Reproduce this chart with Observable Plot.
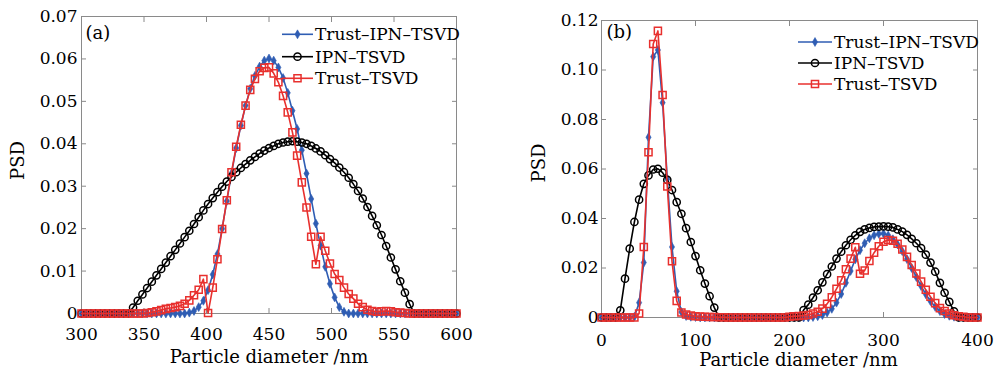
<!DOCTYPE html>
<html><head><meta charset="utf-8">
<script src="https://cdn.jsdelivr.net/npm/d3@7"></script>
<script src="https://cdn.jsdelivr.net/npm/@observablehq/plot@0.6"></script>
<style>
html,body{margin:0;padding:0;background:#fff;}
#wrap{position:relative;width:1002px;height:372px;font-family:"DejaVu Serif",serif;}
.panel{position:absolute;top:0;width:501px;height:372px;}
.legend{position:absolute;left:0;top:0;pointer-events:none;overflow:visible;}
</style></head><body>
<div id="wrap"><div id="pa" class="panel" style="left:0"></div><div id="pb" class="panel" style="left:501px"></div></div>
<script>
// ---------- data ----------
const seriesNames = ["Trust\u2013IPN\u2013TSVD", "IPN\u2013TSVD", "Trust\u2013TSVD"];
const panelTags = ["(a)", "(b)"];
const xLabel = "Particle diameter /nm";
const yLabel = "PSD";

// panel (a): particle diameter grid (nm)
const xA = [300,303.75,307.5,311.25,315,318.75,322.5,326.25,330,333.75,
  337.5,341.25,345,348.75,352.5,356.25,360,363.75,367.5,371.25,
  375,378.75,382.5,386.25,390,393.75,397.5,401.25,405,408.75,
  412.5,416.25,420,423.75,427.5,431.25,435,438.75,442.5,446.25,
  450,453.75,457.5,461.25,465,468.75,472.5,476.25,480,483.75,
  487.5,491.25,495,498.75,502.5,506.25,510,513.75,517.5,521.25,
  525,528.75,532.5,536.25,540,543.75,547.5,551.25,555,558.75,
  562.5,566.25,570,573.75,577.5,581.25,585,588.75,592.5,596.25,600];
const trustIpnA = [0,0,0,0,0,0,0,0,0,0,
  0,0,0,0,0,0,0,0,0,0,
  0,0,0,0.0002,0.0006,0.0015,0.0030,0.0055,0.0092,0.0140,
  0.0200,0.0265,0.0330,0.0390,0.0443,0.0490,0.0530,0.0560,0.0582,0.0596,
  0.0601,0.0596,0.0580,0.0555,0.0520,0.0478,0.0435,0.0385,0.0330,0.0270,
  0.0212,0.0160,0.0110,0.0070,0.0038,0.0015,0.0004,0,0,0,
  0,0,0,0,0,0,0,0,0,0,
  0,0,0,0,0,0,0,0,0,0,0];
const ipnA = [0,0,0,0,0,0,0,0,0,0,
  0,0.0014,0.0030,0.0045,0.0060,0.0075,0.0090,0.0105,0.0120,0.0135,
  0.0150,0.0165,0.0180,0.0195,0.0211,0.0227,0.0243,0.0258,0.0272,0.0286,
  0.0299,0.0311,0.0322,0.0333,0.0343,0.0352,0.0361,0.0369,0.0377,0.0384,
  0.0390,0.0395,0.0400,0.0403,0.0405,0.0406,0.0405,0.0403,0.0400,0.0395,
  0.0389,0.0382,0.0373,0.0364,0.0355,0.0344,0.0333,0.0320,0.0305,0.0289,
  0.0271,0.0251,0.0230,0.0208,0.0185,0.0159,0.0132,0.0104,0.0076,0.0049,
  0.0022,0,0,0,0,0,0,0,0,0,0];
const trustA = [0,0,0,0,0,0,0,0,0,0,
  0,0,0,0,0.0001,0.0003,0.0005,0.0008,0.0011,0.0013,
  0.0015,0.0018,0.0023,0.0031,0.0043,0.0056,0.0081,0.0001,0.0061,0.0128,
  0.0199,0.0267,0.0333,0.0393,0.0445,0.0490,0.0527,0.0553,0.0571,0.0579,
  0.0580,0.0566,0.0545,0.0513,0.0474,0.0427,0.0372,0.0309,0.0250,0.0181,
  0.0116,0.0181,0.0148,0.0118,0.0093,0.0079,0.0061,0.0046,0.0035,0.0023,
  0.0015,0.0009,0.0006,0.0004,0.0005,0.0006,0.0005,0.0003,0.0002,0.0001,
  0,0,0,0,0,0,0,0,0,0,0];
const xTicksA = [300,350,400,450,500,550,600];
const yTicksA = [0,0.01,0.02,0.03,0.04,0.05,0.06,0.07];
const yTickLabelsA = ["0","0.01","0.02","0.03","0.04","0.05","0.06","0.07"];

// panel (b)
const xB = [0,5,10,15,20,25,30,35,40,45,
  50,55,60,65,70,75,80,85,90,95,
  100,105,110,115,120,125,130,135,140,145,
  150,155,160,165,170,175,180,185,190,195,
  200,205,210,215,220,225,230,235,240,245,
  250,255,260,265,270,275,280,285,290,295,
  300,305,310,315,320,325,330,335,340,345,
  350,355,360,365,370,375,380,385,390,395,400];
const trustIpnB = [0,0,0,0,0,0,0,0.0003,0.0060,0.0222,
  0.0728,0.1054,0.1081,0.0868,0.0560,0.0285,0.0106,0.0022,0.0006,0.0003,
  0.0002,0,0,0,0,0,0,0,0,0,
  0,0,0,0,0,0,0,0,0,0,
  0,0,0,0,0,0.0002,0.0005,0.0010,0.0020,0.0035,
  0.0060,0.0095,0.0140,0.0188,0.0235,0.0272,0.0300,0.0320,0.0332,0.0338,
  0.0339,0.0332,0.0316,0.0295,0.0268,0.0236,0.0200,0.0163,0.0127,0.0094,
  0.0066,0.0043,0.0026,0.0014,0.0007,0.0003,0,0,0,0,0];
const ipnB = [0,0,0,0,0.0029,0.0157,0.0278,0.0386,0.0476,0.0540,
  0.0574,0.0598,0.0601,0.0585,0.0556,0.0515,0.0466,0.0419,0.0361,0.0305,
  0.0248,0.0191,0.0137,0.0086,0.0040,0,0,0,0,0,
  0,0,0,0,0,0,0,0,0,0,
  0,0,0,0.0030,0.0052,0.0080,0.0110,0.0142,0.0175,0.0206,
  0.0238,0.0266,0.0292,0.0314,0.0332,0.0346,0.0356,0.0362,0.0366,0.0367,
  0.0368,0.0367,0.0364,0.0356,0.0347,0.0334,0.0318,0.0300,0.0280,0.0254,
  0.0222,0.0185,0.0140,0.0100,0.0063,0.0025,0,0,0,0,0];
const trustB = [0,0,0,0,0,0,0,0,0.0016,0.0285,
  0.0668,0.1105,0.1158,0.0899,0.0529,0.0227,0.0067,0.0020,0.0012,0.0008,
  0.0005,0.0004,0.0003,0.0002,0.0002,0.0001,0.0001,0,0,0,
  0,0,0,0,0,0,0,0,0,0,
  0.0003,0.0005,0.0006,0.0008,0.0010,0.0016,0.0023,0.0036,0.0055,0.0082,
  0.0116,0.0150,0.0195,0.0238,0.0284,0.0177,0.0190,0.0228,0.0262,0.0288,
  0.0306,0.0313,0.0310,0.0298,0.0275,0.0245,0.0212,0.0178,0.0145,0.0112,
  0.0084,0.0058,0.0038,0.0026,0.0016,0.0009,0.0005,0.0003,0,0,0];
const xTicksB = [0,100,200,300,400];
const yTicksB = [0,0.02,0.04,0.06,0.08,0.10,0.12];
const yTickLabelsB = ["0","0.02","0.04","0.06","0.08","0.10","0.12"];

// ---------- styles ----------
const BLUE = "#2f5db3", RED = "#e8302e", BLACK = "#000000", AXIS = "#8a8a8a";
const FONT = "DejaVu Serif";
const R_BLUE = 2.7, R_CIRC = 3.6, R_SQ = 4.0;

function rows(xs, ys) { return xs.map((x, i) => ({x, y: ys[i]})); }

function panel(cfg) {
  const lab = new Map(cfg.yTicks.map((t, i) => [t, cfg.yTickLabels[i]]));
  const sB = rows(cfg.x, cfg.s[0]), sK = rows(cfg.x, cfg.s[1]), sR = rows(cfg.x, cfg.s[2]);
  return Plot.plot({
    width: 501, height: 372,
    marginLeft: cfg.m[0], marginRight: cfg.m[1], marginTop: cfg.m[2], marginBottom: cfg.m[3],
    style: {fontFamily: FONT, fontSize: "17px", background: "transparent", color: "#000", overflow: "visible"},
    x: {domain: cfg.xDomain},
    y: {domain: cfg.yDomain},
    marks: [
      Plot.frame({stroke: AXIS, strokeWidth: 1}),
      Plot.axisX({anchor: "bottom", ticks: cfg.xTicks, tickSize: -5, stroke: AXIS, fill: "none", label: null}),
      Plot.axisX({anchor: "top", ticks: cfg.xTicks, tickSize: -5, stroke: AXIS, fill: "none", label: null}),
      Plot.axisY({anchor: "left", ticks: cfg.yTicks, tickSize: -5, stroke: AXIS, fill: "none", label: null}),
      Plot.axisY({anchor: "right", ticks: cfg.yTicks, tickSize: -5, stroke: AXIS, fill: "none", label: null}),
      Plot.axisX({anchor: "bottom", ticks: cfg.xTicks, tickSize: 0, tickPadding: cfg.xPad, fill: "#000", label: null, tickFormat: d => String(d)}),
      Plot.axisY({anchor: "left", ticks: cfg.yTicks, tickSize: 0, tickPadding: cfg.yPad, fill: "#000", label: null, tickFormat: d => lab.get(d)}),
      Plot.line(sB, {x: "x", y: "y", stroke: BLUE, strokeWidth: 1.6}),
      Plot.dot(sB, {x: "x", y: "y", symbol: "diamond", r: R_BLUE, fill: BLUE, stroke: BLUE, strokeWidth: 0.6}),
      Plot.line(sK, {x: "x", y: "y", stroke: BLACK, strokeWidth: 1.6}),
      Plot.dot(sK, {x: "x", y: "y", symbol: "circle", r: R_CIRC, fill: "none", stroke: BLACK, strokeWidth: 1.5}),
      Plot.line(sR, {x: "x", y: "y", stroke: RED, strokeWidth: 1.6}),
      Plot.dot(sR, {x: "x", y: "y", symbol: "square", r: R_SQ, fill: "none", stroke: RED, strokeWidth: 1.5}),
      Plot.text([cfg.tag], {frameAnchor: "top-left", textAnchor: "start", lineAnchor: "middle", dx: cfg.tagD[0], dy: cfg.tagD[1], fontSize: 18, fill: "#000"}),
      Plot.text([xLabel], {frameAnchor: "bottom", textAnchor: "middle", lineAnchor: "bottom", dx: cfg.xl[0], dy: cfg.xl[1], fontSize: 18, fill: "#000"}),
      Plot.text([yLabel], {frameAnchor: "left", textAnchor: "middle", lineAnchor: "middle", rotate: -90, dx: cfg.yl[0], dy: cfg.yl[1], fontSize: 18, fill: "#000"})
    ]
  });
}

function legend(host, lg) {
  const svg = d3.select(host).append("svg").attr("class", "legend")
    .attr("width", 501).attr("height", 372);
  const colors = [BLUE, BLACK, RED];
  seriesNames.forEach((name, i) => {
    const y = lg.rows[i];
    const g = svg.append("g");
    g.append("line").attr("x1", lg.x1).attr("x2", lg.x2).attr("y1", y).attr("y2", y)
      .attr("stroke", colors[i]).attr("stroke-width", 1.6);
    const cx = (lg.x1 + lg.x2) / 2;
    if (i === 0) g.append("path").attr("d", d3.symbol(d3.symbolDiamond, R_BLUE * R_BLUE * Math.PI)()).attr("transform", `translate(${cx},${y})`).attr("fill", BLUE).attr("stroke", BLUE).attr("stroke-width", 0.6);
    if (i === 1) g.append("circle").attr("cx", cx).attr("cy", y).attr("r", R_CIRC).attr("fill", "none").attr("stroke", BLACK).attr("stroke-width", 1.5);
    if (i === 2) g.append("path").attr("d", d3.symbol(d3.symbolSquare, R_SQ * R_SQ * Math.PI)()).attr("transform", `translate(${cx},${y})`).attr("fill", "none").attr("stroke", RED).attr("stroke-width", 1.5);
    g.append("text").attr("x", lg.tx).attr("y", y).attr("dy", "0.35em")
      .attr("font-family", FONT).attr("font-size", 17).attr("fill", "#000").text(name);
  });
}

const pa = document.getElementById("pa"), pb = document.getElementById("pb");
pa.appendChild(panel({
  x: xA, s: [trustIpnA, ipnA, trustA], xDomain: [300, 600], yDomain: [0, 0.07],
  xTicks: xTicksA, yTicks: yTicksA, yTickLabels: yTickLabelsA,
  m: [81, 45, 16, 59], xPad: 14.5, yPad: 4, tag: panelTags[0], tagD: [4, 17],
  xl: [0, 49], yl: [-63.5, -4.5]
}));
pb.appendChild(panel({
  x: xB, s: [trustIpnB, ipnB, trustB], xDomain: [0, 400], yDomain: [0, 0.12],
  xTicks: xTicksB, yTicks: yTicksB, yTickLabels: yTickLabelsB,
  m: [100, 25, 20, 55], xPad: 16.5, yPad: 3, tag: panelTags[1], tagD: [5, 12],
  xl: [9, 48], yl: [-62, -6]
}));
legend(pa, {x1: 282, x2: 313, tx: 315, rows: [34.3, 56.7, 78.3]});
legend(pb, {x1: 297, x2: 331, tx: 333, rows: [42, 63, 84]});
</script>
</body></html>
